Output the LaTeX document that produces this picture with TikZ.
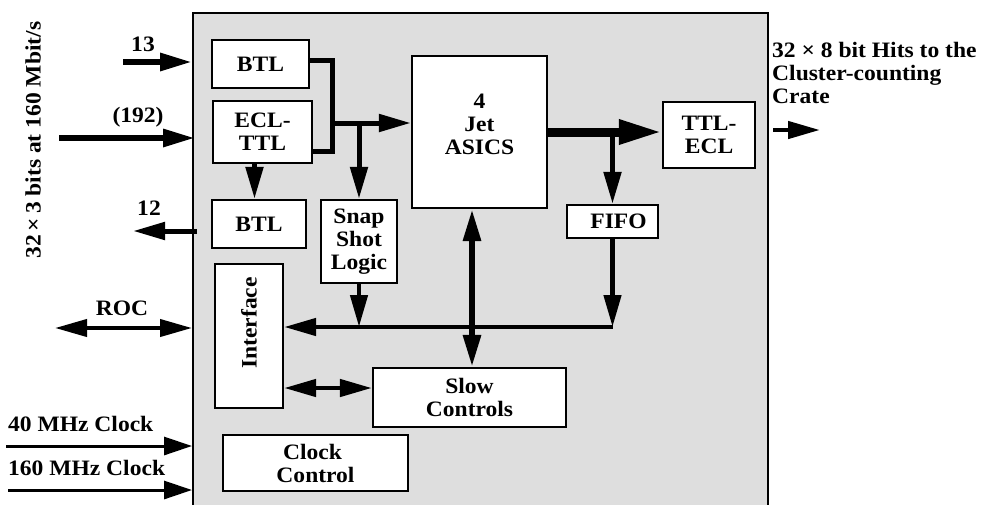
\documentclass[tikz,border=0pt]{standalone}
\usepackage{fontspec}
\setmainfont{Liberation Serif}[FakeStretch=1.07]
\usetikzlibrary{arrows.meta,calc}
\definecolor{boardgray}{RGB}{222,222,222}
\tikzset{
  box/.style={draw, line width=2.2pt, fill=white, inner sep=0pt, align=center},
  lbl/.style={inner sep=0pt, align=center},
  wire/.style={line width=5pt},
  tip/.style={-{Triangle[length=32pt,width=17pt]}},
  bitip/.style={{Triangle[length=32pt,width=17pt]}-{Triangle[length=32pt,width=17pt]}},
  bigtip/.style={-{Triangle[length=43pt,width=23pt]}},
}
\begin{document}
\begin{tikzpicture}[x=1pt,y=-1pt,font=\fontsize{22}{23}\selectfont\bfseries]
\clip (0,0) rectangle (990,504);
\fill[white] (0,0) rectangle (990,504);
% board
\node[draw, line width=2pt, fill=boardgray, minimum width=575pt, minimum height=507pt, inner sep=0pt] (board) at (480.5,266.5) {};
% blocks
\node[box, minimum width=97pt, minimum height=48pt] (btl1) at (260.5,64) {BTL};
\node[box, minimum width=99pt, minimum height=62pt] (ecl) at (262.5,132) {ECL-\\TTL};
\node[box, minimum width=94pt, minimum height=48pt] (btl2) at (259,224) {BTL};
\node[box, minimum width=76pt, minimum height=83pt] (snap) at (359,241.5) {Snap\\Shot\\Logic};
\node[box, minimum width=135pt, minimum height=152pt] (asics) at (479.5,132) {};
\node[lbl] (asicstext) at (479.5,124) {4\\Jet\\ASICS};
\node[box, minimum width=92pt, minimum height=66pt] (ttlecl) at (709,135) {TTL-\\ECL};
\node[box, minimum width=91pt, minimum height=33pt] (fifo) at (612.5,221.5) {\hspace{12pt}FIFO};
\node[box, minimum width=68pt, minimum height=144pt] (iface) at (249,336) {};
\node[lbl, rotate=90] (ifacetext) at (249,323) {Interface};
\node[box, minimum width=193pt, minimum height=59pt] (slow) at (469.5,397.5) {Slow\\Controls};
\node[box, minimum width=185pt, minimum height=56pt] (clock) at (315.5,463) {\hspace{-6pt}Clock\\Control};
% outside labels
\node[lbl, rotate=90] (rate) at (33,140) {32\,×\,3 bits at 160 Mbit/s};
\node[lbl] (l13) at (143,44) {13};
\node[lbl] (l192) at (138,117) {(192)};
\node[lbl] (l12) at (149,208) {12};
\node[lbl] (lroc) at (122,308) {ROC};
\node[lbl, anchor=west] (l40) at (8,424) {40 MHz Clock};
\node[lbl, anchor=west] (l160) at (8,468) {160 MHz Clock};
\node[lbl, align=left, anchor=north west] (lout) at (772,42) {32 × 8 bit Hits to the\\Cluster-counting\\Crate};
% coordinates
\coordinate (c13) at (123,62);
\coordinate (c192) at (59,138);
\coordinate (c12) at (133,231);
\coordinate (croc) at (55,328);
\coordinate (c40) at (6,446);
\coordinate (c160) at (8,490);
\coordinate (cout) at (820,130);
\coordinate (bus) at (332,123);
\coordinate (bus2) at (612.5,327);
% external connectors
\draw[line width=6pt, tip] (c13) -- (c13 -| board.west);
\draw[line width=6pt, tip] (c192) -- ([xshift=3pt]c192 -| board.west);
\draw[line width=5pt, tip] ([xshift=5pt]c12 -| board.west) -- (c12);
\draw[line width=4pt, bitip] (croc) -- (croc -| board.west);
\draw[line width=3pt, -{Triangle[length=28pt,width=18pt]}] (c40) -- (c40 -| board.west);
\draw[line width=3pt, -{Triangle[length=28pt,width=18pt]}] (c160) -- (c160 -| board.west);
\draw[line width=4.5pt, tip] ([xshift=4pt]cout -| board.east) -- (cout);
% internal connectors
\draw[wire, line join=miter] ([yshift=4pt]btl1.east) -| (bus) |- ([yshift=-19pt]ecl.east);
\draw[wire, tip] (bus) -- (bus -| asics.west);
\draw[wire, tip] (snap.north |- bus) -- (snap.north);
\draw[wire, tip] ([xshift=-8pt]ecl.south) -- ([xshift=-8pt]ecl.south |- btl2.north);
\draw[line width=9pt, bigtip] (asics.east) -- (asics.east -| ttlecl.west);
\draw[wire, tip] (fifo.north |- asics.east) -- (fifo.north);
\draw[line width=4.5pt, tip] (fifo.south) -- (bus2);
\draw[line width=4.5pt, tip] (bus2) -- (bus2 -| iface.east);
\draw[line width=4.5pt, tip] (snap.south) -- (snap.south |- bus2);
\draw[line width=6pt, bitip] ([xshift=-7.5pt]asics.south) -- ([xshift=-7.5pt]asics.south |- slow.north);
\draw[line width=4.5pt, bitip] ([yshift=9.5pt]slow.west -| iface.east) -- ([yshift=9.5pt]slow.west);
\end{tikzpicture}
\end{document}
